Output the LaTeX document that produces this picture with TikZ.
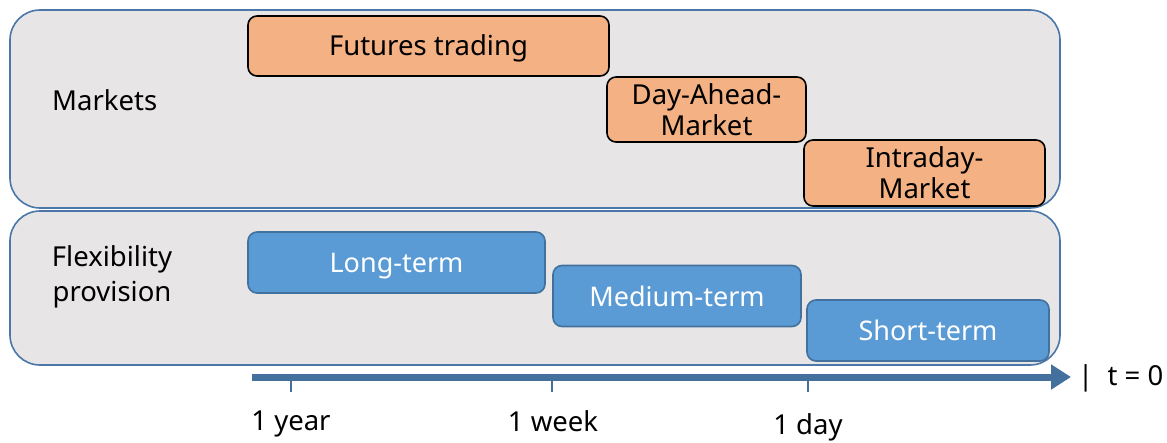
\documentclass[tikz,border=0pt]{standalone}
\usepackage{fontspec}
\setmainfont{Noto Sans}
\usetikzlibrary{arrows.meta}
\definecolor{panelfill}{HTML}{E7E5E6}
\definecolor{panelline}{HTML}{4A76A8}
\definecolor{mktfill}{HTML}{F4B183}
\definecolor{flexfill}{HTML}{5B9BD5}
\definecolor{flexline}{HTML}{41719C}
\definecolor{axisblue}{HTML}{44709D}
\tikzset{
  panel/.style={draw=panelline, fill=panelfill, line width=1.6pt, rounded corners=30pt},
  mktbox/.style={draw=black, fill=mktfill, line width=1.6pt, rounded corners=9pt,
    font=\fontsize{27.5}{31}\selectfont, align=center, inner sep=0pt},
  flexbox/.style={draw=flexline, fill=flexfill, line width=1.6pt, rounded corners=9pt,
    font=\fontsize{27}{31}\selectfont, text=white, align=center, inner sep=0pt},
  lbl/.style={font=\fontsize{27.5}{35}\selectfont, align=center},
  tick/.style={draw=axisblue, line width=2pt},
}
\begin{document}
\begin{tikzpicture}[x=1pt,y=-1pt]
\useasboundingbox (0,0) rectangle (1167,442);

% background panels
\draw[panel] (10,10) rectangle (1060,208);
\draw[panel] (10,211) rectangle (1060,365);

% market boxes
\node[mktbox, minimum width=361pt, minimum height=60pt, text depth=1pt] (fut) at (428.5,46) {Futures trading};
\node[mktbox, minimum width=199pt, minimum height=65pt] (da) at (706.5,109.5) {Day-Ahead-\\Market};
\node[mktbox, minimum width=241pt, minimum height=66pt] (id) at (924.5,173) {Intraday-\\Market};

% flexibility boxes
\node[flexbox, minimum width=297pt, minimum height=61pt, text depth=0pt] (lt) at (396.5,262.5) {Long-term};
\node[flexbox, minimum width=248pt, minimum height=61pt] (mt) at (677,296) {Medium-term};
\node[flexbox, minimum width=242pt, minimum height=61pt] (st) at (928,330.5) {Short-term};

% row labels
\node[lbl, anchor=west, inner sep=0pt] (mk) at (52,100) {Markets};
\node[lbl] (fp) at (112,277) {Flexibility\\provision};

% time axis
\coordinate (axs) at (252,377);
\coordinate (axe) at (1071,377);
\draw[draw=axisblue, line width=7pt, -{Triangle[length=20pt,width=24pt]}] (axs) -- (axe);
\coordinate (t1) at (291,377);
\coordinate (t2) at (552,377);
\coordinate (t3) at (808,377);
\draw[tick] (t1) -- ++(0,15);
\draw[tick] (t2) -- ++(0,15);
\draw[tick] (t3) -- ++(0,15);
\node[lbl] (ly) at (291,424) {1 year};
\node[lbl] (lw) at (553,421) {1 week};
\node[lbl] (ld) at (808,427) {1 day};
\node[lbl, anchor=west, inner sep=0pt] (t0) at (1078,378) {|\ \ t = 0};
\end{tikzpicture}
\end{document}
